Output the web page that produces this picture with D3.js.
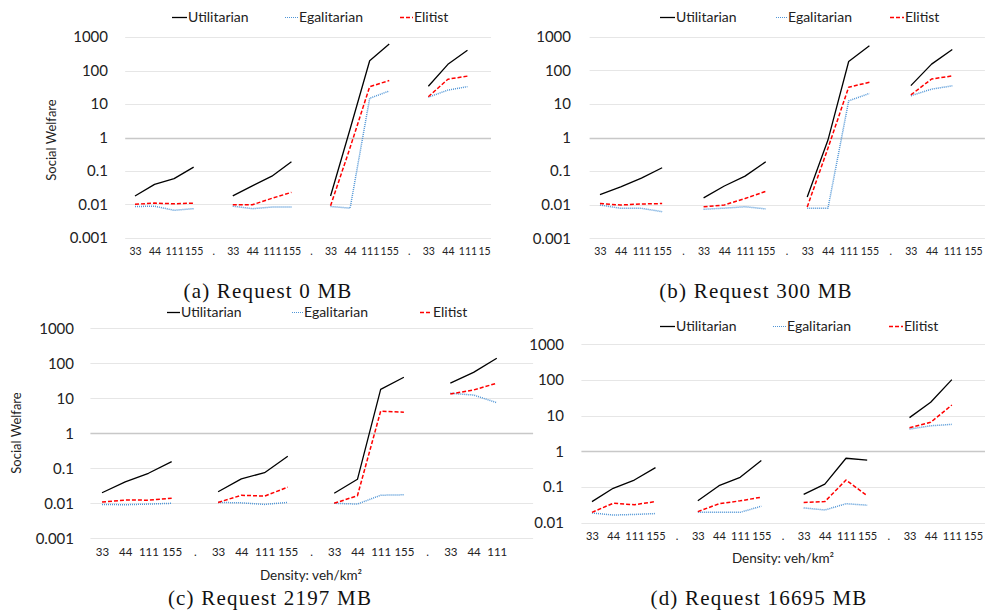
<!DOCTYPE html>
<html>
<head>
<meta charset="utf-8">
<script src="https://cdn.jsdelivr.net/npm/d3@7"></script>
<style>
  html, body { margin: 0; padding: 0; background: #fff; }
  svg { display: block; }
</style>
</head>
<body>
<div id="chart"></div>
<script>
const W = 985, H = 611;

// category labels along x (4 densities per group, "." separators)
const xLabels = ['33','44','111','155','.','33','44','111','155','.','33','44','111','155','.','33','44','111','155'];
const yTicks = [0.001, 0.01, 0.1, 1, 10, 100, 1000];
const seriesNames = ['Utilitarian', 'Egalitarian', 'Elitist'];

// (a) Request 0 MB
const utilA = [0.018,0.040,0.059,0.13,null, 0.018,0.036,0.07,0.19,null, 0.018,1.8,195,620,null, 34,153,400,null];
const egalA = [0.0087,0.0089,0.0067,0.0075,null, 0.0089,0.0075,0.0084,0.0084,null, 0.0087,0.0078,14.8,24.5,null, 16,26,33,null];
const elitA = [0.0102,0.011,0.0105,0.011,null, 0.0098,0.0098,0.0153,0.023,null, 0.0092,0.5,33,50,null, 16.5,55,68,null];

// (b) Request 300 MB
const utilB = [0.020,0.034,0.062,0.126,null, 0.016,0.036,0.071,0.19,null, 0.017,0.84,183,540,null, 35,153,415,null];
const egalB = [0.0098,0.0078,0.0078,0.0062,null, 0.0073,0.0079,0.0087,0.0075,null, 0.0079,0.0078,12.3,20.5,null, 17.5,27.5,34.5,null];
const elitB = [0.0108,0.0098,0.0105,0.0108,null, 0.0087,0.0098,0.0153,0.025,null, 0.0086,0.48,31.5,44,null, 18.5,55,68,null];

// (c) Request 2197 MB
const utilC = [0.020,0.041,0.072,0.155,null, 0.0214,0.05,0.075,0.22,null, 0.0193,0.0485,18,40,null, 27,55,139,null];
const egalC = [0.0093,0.0091,0.0095,0.010,null, 0.0106,0.0103,0.0093,0.0106,null, 0.010,0.0095,0.017,0.0175,null, 13.9,12.4,7.5,null];
const elitC = [0.0109,0.0124,0.0123,0.014,null, 0.0106,0.017,0.016,0.029,null, 0.010,0.0165,4.3,4.0,null, 13.3,17.3,27,null];

// (d) Request 16695 MB
const utilD = [0.039,0.092,0.157,0.35,null, 0.041,0.109,0.187,0.55,null, 0.0625,0.121,0.64,0.57,null, 8.8,23.7,102,null];
const egalD = [0.0187,0.0164,0.017,0.018,null, 0.0198,0.0195,0.0195,0.029,null, 0.026,0.0227,0.034,0.031,null, 4.2,5.2,5.7,null];
const elitD = [0.0195,0.035,0.032,0.039,null, 0.0204,0.034,0.041,0.052,null, 0.037,0.039,0.157,0.057,null, 4.6,6.5,19.9,null];

const captions = ['(a) Request 0 MB', '(b) Request 300 MB', '(c) Request 2197 MB', '(d) Request 16695 MB'];

const styles = {
  Utilitarian: { color: '#000000', width: 1.3, dash: null },
  Egalitarian: { color: '#4f95d6', width: 1.5, dash: '1,1' },
  Elitist:     { color: '#ff0000', width: 1.5, dash: '4,2' }
};

const FONT = 'Lato, "Open Sans", sans-serif';

const svg = d3.select('#chart').append('svg')
  .attr('width', W).attr('height', H)
  .attr('viewBox', `0 0 ${W} ${H}`);

svg.append('rect').attr('width', W).attr('height', H).attr('fill', '#fff');

// layout of each panel (pixel geometry only)
const panels = [
  { id: 'a', data: [utilA, egalA, elitA], x0: 125.2, x1: 496.8, yTop: 37, yBot: 238, yMin: 0.001,
    tickRight: 108, catY: 258, catSize: 10.5, clipX: 491, legendY: 17, legendX: [172, 285, 400], legendW: [15, 13, 13],
    yTitle: { x: 51, y: 140 }, xTitle: null, hideLast: false },
  { id: 'b', data: [utilB, egalB, elitB], x0: 589.6, x1: 983.4, yTop: 36.7, yBot: 238.3, yMin: 0.001,
    tickRight: 571, catY: 258, catSize: 10.5, clipX: 985, legendY: 17, legendX: [660, 776, 890], legendW: [15, 11, 14],
    yTitle: null, xTitle: null, hideLast: false },
  { id: 'c', data: [utilC, egalC, elitC], x0: 90.4, x1: 531.6, yTop: 328.3, yBot: 538.3, yMin: 0.001,
    tickRight: 74, catY: 558, catSize: 11.5, clipX: 560, legendY: 312, legendX: [167, 292, 420], legendW: [13, 11, 12],
    yTitle: { x: 16, y: 433 }, xTitle: { x: 311, y: 575 }, hideLast: true },
  { id: 'd', data: [utilD, egalD, elitD], x0: 581.4, x1: 983.6, yTop: 344.3, yBot: 522.7, yMin: 0.01,
    tickRight: 564, catY: 542, catSize: 11, clipX: 985, legendY: 326, legendX: [660, 773, 889], legendW: [15, 13, 14],
    yTitle: null, xTitle: { x: 783, y: 558 }, hideLast: false }
];

panels.forEach(p => {
  const clipId = 'clip-' + p.id;
  svg.append('clipPath').attr('id', clipId)
    .append('rect').attr('x', 0).attr('y', 0).attr('width', p.clipX).attr('height', H);

  const g = svg.append('g').attr('clip-path', `url(#${clipId})`);

  const x = d3.scalePoint()
    .domain(d3.range(xLabels.length))
    .range([p.x0, p.x1])
    .padding(0.5);

  const y = d3.scaleLog()
    .domain([p.yMin, 1000])
    .range([p.yBot, p.yTop]);

  const ticks = yTicks.filter(t => t >= p.yMin);

  // gridlines
  g.append('g').selectAll('line')
    .data(ticks)
    .join('line')
    .attr('x1', p.x0).attr('x2', p.x1 + 1.5)
    .attr('y1', d => Math.round(y(d)) + 0.5)
    .attr('y2', d => Math.round(y(d)) + 0.5)
    .attr('stroke', d => d === 1 ? '#c8c8c8' : '#e6e6e6')
    .attr('stroke-width', d => d === 1 ? 1.3 : 1);

  // y axis labels
  const yAxis = d3.axisLeft(y)
    .tickValues(ticks)
    .tickSize(0)
    .tickPadding(0)
    .tickFormat(d => d >= 1 ? d3.format('d')(d) : String(+d.toPrecision(1)));
  g.append('g')
    .attr('transform', `translate(${p.tickRight},0)`)
    .call(yAxis)
    .call(s => s.select('.domain').remove())
    .call(s => s.selectAll('text')
      .attr('font-family', FONT).attr('font-size', 15).attr('fill', '#222'));

  // category labels
  const catIdx = d3.range(xLabels.length).filter(i => !(p.hideLast && i === xLabels.length - 1));
  const xAxis = d3.axisBottom(x)
    .tickValues(catIdx)
    .tickSize(0)
    .tickPadding(0)
    .tickFormat(i => xLabels[i]);
  g.append('g')
    .attr('transform', `translate(0,${p.catY - 10})`)
    .call(xAxis)
    .call(s => s.select('.domain').remove())
    .call(s => s.selectAll('text')
      .attr('font-family', FONT).attr('font-size', p.catSize).attr('fill', '#222'));

  // series lines
  const line = d3.line()
    .defined(d => d.v != null)
    .x(d => x(d.i))
    .y(d => y(d.v));

  seriesNames.forEach((name, k) => {
    const st = styles[name];
    const pts = p.data[k].map((v, i) => ({ i, v }));
    g.append('path')
      .datum(pts)
      .attr('fill', 'none')
      .attr('stroke', st.color)
      .attr('stroke-width', st.width)
      .attr('stroke-dasharray', st.dash)
      .attr('stroke-linejoin', 'round')
      .attr('d', line);
  });

  // legend
  seriesNames.forEach((name, k) => {
    const st = styles[name];
    const lx = p.legendX[k];
    g.append('line')
      .attr('x1', lx).attr('x2', lx + p.legendW[k])
      .attr('y1', p.legendY + 0.5).attr('y2', p.legendY + 0.5)
      .attr('stroke', st.color)
      .attr('stroke-width', name === 'Egalitarian' ? 1.2 : st.width)
      .attr('stroke-dasharray', st.dash);
    g.append('text')
      .attr('x', lx + p.legendW[k] + 1)
      .attr('y', p.legendY)
      .attr('dy', '0.35em')
      .attr('font-family', FONT).attr('font-size', 14).attr('fill', '#222')
      .text(name);
  });

  if (p.yTitle) {
    g.append('text')
      .attr('transform', `translate(${p.yTitle.x},${p.yTitle.y}) rotate(-90)`)
      .attr('text-anchor', 'middle')
      .attr('dy', '0.35em')
      .attr('font-family', FONT).attr('font-size', 13).attr('fill', '#222')
      .text('Social Welfare');
  }
  if (p.xTitle) {
    g.append('text')
      .attr('x', p.xTitle.x).attr('y', p.xTitle.y)
      .attr('text-anchor', 'middle')
      .attr('dy', '0.35em')
      .attr('font-family', FONT).attr('font-size', 13.5).attr('fill', '#222')
      .text('Density: veh/km²');
  }
});

// captions
const capPos = [[268, 291], [756, 291], [270, 598], [759, 598]];
svg.append('g').selectAll('text')
  .data(captions)
  .join('text')
  .attr('x', (d, i) => capPos[i][0])
  .attr('y', (d, i) => capPos[i][1])
  .attr('dy', '0.32em')
  .attr('text-anchor', 'middle')
  .attr('font-family', '"Liberation Serif", "DejaVu Serif", serif')
  .attr('font-size', 21)
  .attr('letter-spacing', 1.2)
  .attr('fill', '#111')
  .text(d => d);
</script>
</body>
</html>
